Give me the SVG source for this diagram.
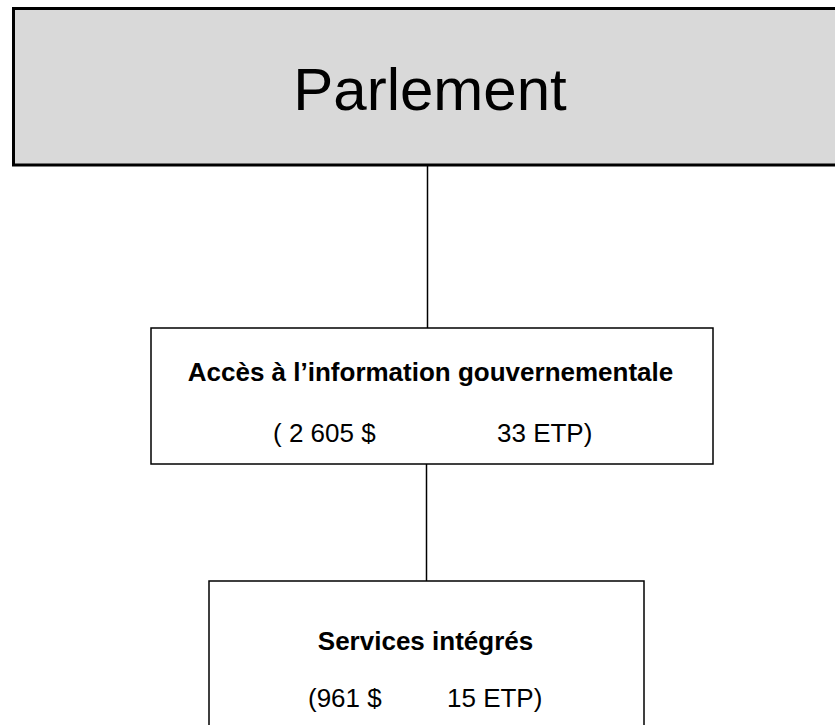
<svg xmlns="http://www.w3.org/2000/svg" width="835" height="725" viewBox="0 0 835 725">
<style>
.t{font-family:"Liberation Sans",Arial,sans-serif;fill:#000}
.b{font-weight:bold}
.box{fill:#fff;stroke:#000;stroke-width:1.5}
.conn{stroke:#000;stroke-width:1.5;fill:none}
</style>
<rect width="835" height="725" fill="#fff"/>
<g id="connectors">
<line class="conn" x1="427.5" y1="165" x2="427.5" y2="328"/>
<line class="conn" x1="426.5" y1="464" x2="426.5" y2="581"/>
</g>
<g id="parlement">
<rect x="13.5" y="8.5" width="840" height="156.5" fill="#d9d9d9" stroke="#000" stroke-width="3"/>
<text class="t" x="430" y="110" font-size="60" text-anchor="middle">Parlement</text>
</g>
<g id="acces">
<rect class="box" x="151" y="328" width="562" height="136"/>
<text class="t b" x="430.5" y="381" font-size="26" text-anchor="middle">Accès à l’information gouvernementale</text>
<text class="t" x="273" y="442" font-size="26">( 2 605 $</text>
<text class="t" x="497" y="442" font-size="26">33 ETP)</text>
</g>
<g id="services">
<rect class="box" x="209" y="581" width="435" height="200"/>
<text class="t b" x="425.5" y="650" font-size="26" text-anchor="middle">Services intégrés</text>
<text class="t" x="308" y="707" font-size="26">(961 $</text>
<text class="t" x="447" y="707" font-size="26">15 ETP)</text>
</g>
</svg>
